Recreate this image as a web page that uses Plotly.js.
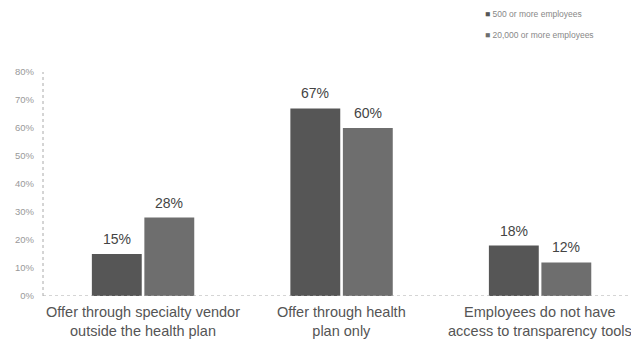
<!DOCTYPE html>
<html><head><meta charset="utf-8">
<script src="https://cdn.plot.ly/plotly-3.0.1.min.js"></script>
<style>html,body{margin:0;padding:0;background:#fff}</style>
</head><body><div id="chart" style="width:631px;height:341px"></div>
<script>
const categories = ["Offer through specialty vendor<br>outside the health plan", "Offer through health<br>plan only", "Employees do not have<br>access to transparency tools"];
const seriesNames = ["500 or more employees", "20,000 or more employees"];
const values500 = [15, 67, 18];
const values20000 = [28, 60, 12];
const yTicks = [0, 10, 20, 30, 40, 50, 60, 70, 80];

const colors = ["#565656", "#6e6e6e"];
const font = "Liberation Sans, Arial";
const bargap = 0.471, bargroupgap = 0.05;
const half = (1 - bargap) / 4;
const series = [values500, values20000];
const xIdx = categories.map((c, j) => j);

const traces = series.map((v, i) => ({
  type: "bar", name: seriesNames[i], x: xIdx, y: v,
  marker: {color: colors[i]}, hoverinfo: "none"
}));

const annotations = [];
series.forEach((v, i) => v.forEach((d, j) => annotations.push({
  x: j + (i === 0 ? -half : half), y: d, xref: "x", yref: "y", text: d + "%",
  showarrow: false, yshift: 15, font: {family: font, size: 14, color: "#444"}
})));
categories.forEach((c, j) => annotations.push({
  x: j, y: 0, xref: "x", yref: "y", text: c, showarrow: false,
  xanchor: "center", yanchor: "top", yshift: -6, align: "center",
  font: {family: font, size: 14.5, color: "#555"}
}));
seriesNames.forEach((n, i) => annotations.push({
  xref: "paper", yref: "paper", x: (483 - 43) / 588, y: 1 + (72 - (14 + 21 * i)) / 224,
  xanchor: "left", yanchor: "middle", showarrow: false,
  text: '<span style="color:' + colors[i] + '">■</span> ' + n,
  font: {family: font, size: 8.5, color: "#888"}
}));

Plotly.newPlot("chart", traces, {
  width: 631, height: 341,
  margin: {l: 43, r: 0, t: 72, b: 45},
  barmode: "group", bargap: bargap, bargroupgap: bargroupgap,
  paper_bgcolor: "#fff", plot_bgcolor: "#fff",
  showlegend: false,
  annotations: annotations,
  xaxis: {range: [-0.504, 2.458], showticklabels: false, showgrid: false,
    zeroline: false, showline: false, ticks: ""},
  yaxis: {range: [0, 80], tickvals: yTicks, ticktext: yTicks.map(t => t + "%"), showgrid: false,
    zeroline: false, showline: false, ticks: "", ticklabelstandoff: 8,
    tickfont: {family: font, size: 9.5, color: "#999"}},
  shapes: [
    {type: "line", xref: "paper", yref: "y", x0: 0, x1: 1, y0: 0, y1: 0, line: {color: "#aaa", width: 1, dash: "dot"}},
    {type: "line", xref: "paper", yref: "paper", x0: 0, x1: 0, y0: 0, y1: 1, line: {color: "#aaa", width: 1, dash: "dot"}}
  ]
}, {displayModeBar: false, staticPlot: true});
</script></body></html>
